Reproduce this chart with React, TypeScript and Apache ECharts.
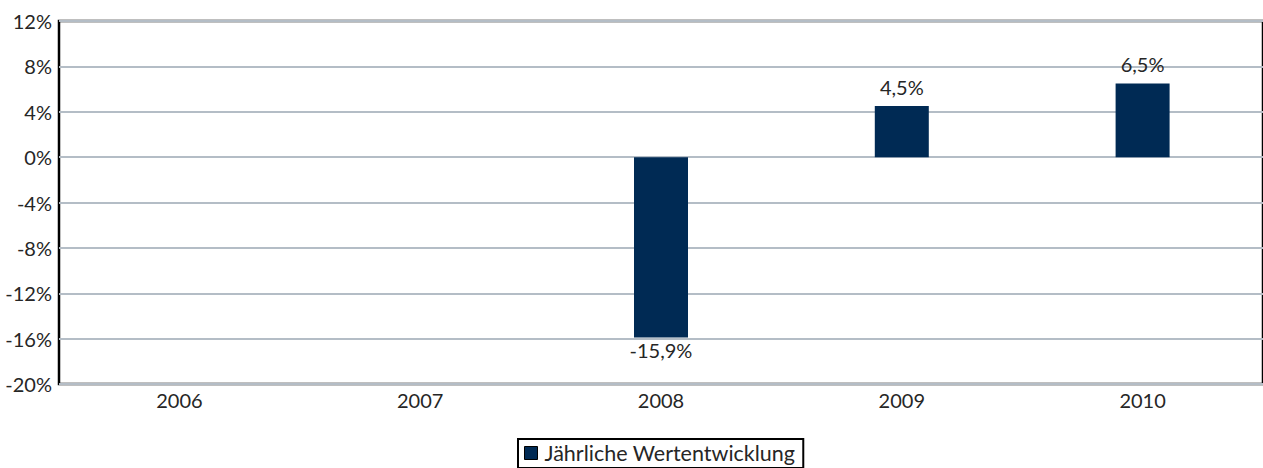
import React, { useEffect, useRef } from "react";
import * as echarts from "echarts";

const categories = ["2006", "2007", "2008", "2009", "2010"];
const values: (number | null)[] = [null, null, -15.9, 4.5, 6.5];
const seriesName = "Jährliche Wertentwicklung";
const yMin = -20;
const yMax = 12;
const yStep = 4;

const FONT = "Lato";
const TEXT = "#262626";
const NAVY = "#002a54";

export default function App() {
  const ref = useRef<HTMLDivElement>(null);
  useEffect(() => {
    document.body.style.margin = "0";
    const chart = echarts.init(ref.current!, null, { renderer: "svg" });
    chart.setOption({
      animation: false,
      textStyle: { fontFamily: FONT },
      grid: {
        left: 59,
        right: 0,
        top: 21,
        bottom: 84,
        show: true,
        borderColor: "#000",
        borderWidth: 2.5,
        backgroundColor: "transparent",
      },
      legend: {
        data: [seriesName],
        left: 518,
        top: 439,
        padding: [3, 8, 4, 6],
        borderColor: "#000",
        borderWidth: 2,
        itemWidth: 13,
        itemHeight: 13,
        itemGap: 6,
        icon: "rect",
        itemStyle: { borderColor: "#000", borderWidth: 1 },
        textStyle: { fontFamily: FONT, fontSize: 21.5, color: TEXT, padding: [0, 0, 0, 2] },
      },
      xAxis: {
        type: "category",
        data: categories,
        axisLine: { show: false },
        axisTick: { show: false },
        axisLabel: { color: TEXT, fontSize: 20, fontFamily: FONT, margin: 6 },
      },
      yAxis: {
        type: "value",
        min: yMin,
        max: yMax,
        interval: yStep,
        axisLine: { show: false },
        axisTick: { show: false },
        splitLine: { lineStyle: { color: "#b4bdc6", width: 2 } },
        axisLabel: {
          color: TEXT,
          fontSize: 20,
          fontFamily: FONT,
          margin: 7,
          formatter: (v: number) => `${v}%`,
        },
      },
      series: [
        {
          name: seriesName,
          type: "bar",
          barWidth: 54,
          itemStyle: { color: NAVY },
          data: values.map((v) => ({
            value: v,
            label: {
              show: v !== null,
              position: v !== null && v < 0 ? "bottom" : "top",
              distance: v !== null && v < 0 ? 3 : 9,
              color: TEXT,
              fontSize: 20,
              fontFamily: FONT,
              formatter: (p: any) => `${String(p.value).replace(".", ",")}%`,
            },
          })),
        },
      ],
    });
    return () => chart.dispose();
  }, []);
  return <div ref={ref} style={{ width: 1263, height: 468 }} />;
}
